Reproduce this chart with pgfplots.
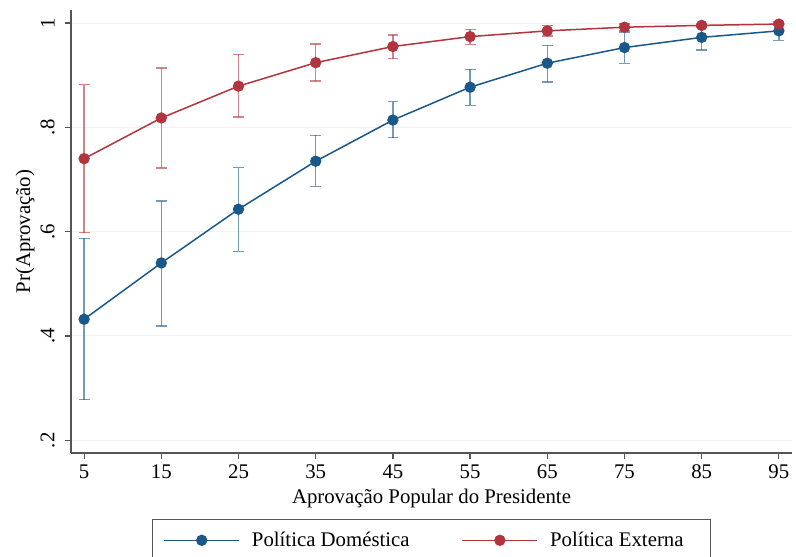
\documentclass[border=0pt]{standalone}
\usepackage{fontspec}
\setmainfont{Liberation Serif}
\usepackage{pgfplots}
\pgfplotsset{compat=1.18}
\usepackage{pgfplotstable}
\definecolor{sblue}{RGB}{26,88,138}
\definecolor{sred}{RGB}{178,52,62}
\definecolor{axgray}{RGB}{85,85,85}

\pgfplotstableread{
x  y      ep     em
5  0.432  0.155  0.154
15 0.540  0.119  0.121
25 0.643  0.080  0.081
35 0.735  0.050  0.048
45 0.814  0.035  0.034
55 0.877  0.034  0.035
65 0.923  0.034  0.036
75 0.953  0.030  0.030
85 0.9725 0.024  0.024
95 0.985  0.018  0.018
}\dom

\pgfplotstableread{
x  y      ep     em
5  0.740  0.142  0.142
15 0.818  0.096  0.096
25 0.879  0.061  0.059
35 0.924  0.036  0.035
45 0.955  0.022  0.023
55 0.974  0.014  0.015
65 0.985  0.0105 0.010
75 0.992  0.006  0.006
85 0.9955 0.003  0.003
95 0.998  0.002  0.002
}\ext

\begin{document}
\begin{tikzpicture}[font=\fontsize{10.4bp}{12.5bp}\selectfont]
\begin{axis}[
  at={(0,0)}, anchor=south west,
  scale only axis, width=360.5bp, height=221.5bp,
  xmin=3.3, xmax=96.7, ymin=0.1756, ymax=1.025,
  axis x line*=bottom, axis y line*=left,
  axis line style={axgray, line width=0.6bp, -},
  xtick={5,15,...,95},
  ytick={0.2,0.4,0.6,0.8,1},
  yticklabels={.2,.4,.6,.8,1},
  /pgf/number format/assume math mode=true,
  tick align=outside,
  major tick length=3bp,
  tick style={axgray, line width=0.6bp},
  xticklabel style={inner sep=2.5bp},
  yticklabel style={rotate=90, anchor=south, inner sep=5bp},
  ymajorgrids,
  major grid style={gray!10, line width=0.5bp},
  xlabel={Aprovação Popular do Presidente},
  xlabel style={at={(axis description cs:0.5,-0.102)}, anchor=center},
  ylabel={Pr(Aprovação)},
  ylabel style={at={(axis description cs:-0.0638,0.5)}, anchor=center, rotate=0},
  legend columns=2,
  legend style={at={(axis description cs:0.5,-0.149)}, anchor=north,
    draw=axgray, line width=0.6bp, inner xsep=5.5bp, inner ysep=4bp,
    /tikz/every even column/.append style={column sep=24bp},
    /tikz/every odd column/.append style={column sep=4bp},
    font=\fontsize{10.4bp}{12.5bp}\selectfont},
  legend image code/.code={\draw[#1, mark repeat=2, mark phase=2]
    plot coordinates {(0bp,0bp) (18.75bp,0bp) (37.5bp,0bp)};},
  clip=false,
]
\addplot[sblue, line width=0.75bp, mark=*, mark size=2.45bp,
  mark options={draw=sblue, fill=sblue},
  error bars/.cd, y dir=both, y explicit,
  error bar style={sblue, opacity=0.6, line width=0.65bp},
  error mark options={rotate=90, mark size=2.7bp, line width=0.65bp, opacity=0.6}]
  table[x=x, y=y, y error plus=ep, y error minus=em] {\dom};
\addlegendentry{Política Doméstica}
\addplot[sred, line width=0.75bp, mark=*, mark size=2.45bp,
  mark options={draw=sred, fill=sred},
  error bars/.cd, y dir=both, y explicit,
  error bar style={sred, opacity=0.6, line width=0.65bp},
  error mark options={rotate=90, mark size=2.7bp, line width=0.65bp, opacity=0.6}]
  table[x=x, y=y, y error plus=ep, y error minus=em] {\ext};
\addlegendentry{Política Externa\hspace*{6bp}}
\end{axis}
\pgfresetboundingbox
\path[use as bounding box] (-35.5bp,-52bp) rectangle (362.5bp,226.5bp);
\end{tikzpicture}
\end{document}
